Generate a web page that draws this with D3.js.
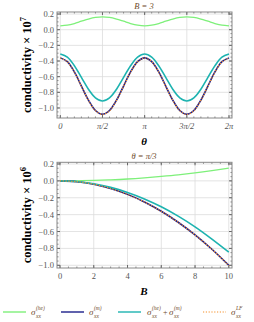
<!DOCTYPE html>
<html>
<head>
<meta charset="utf-8" />
<script src="https://d3js.org/d3.v7.min.js"></script>
<style>
  body { margin: 0; background: #fff; }
  text { font-family: "Liberation Serif", "DejaVu Serif", serif; }
</style>
</head>
<body>
<svg id="chart"></svg>
<script>
// theta samples (multiples of pi/12) and values (x 1e-7)
var thetaSteps = d3.range(0, 25);
var topHe  = [0.050,0.058,0.079,0.108,0.136,0.157,0.165,0.157,0.136,0.108,0.079,0.058,0.050,0.058,0.079,0.108,0.136,0.157,0.165,0.157,0.136,0.108,0.079,0.058,0.050];
var topM   = [-0.360,-0.408,-0.540,-0.720,-0.900,-1.032,-1.080,-1.032,-0.900,-0.720,-0.540,-0.408,-0.360,-0.408,-0.540,-0.720,-0.900,-1.032,-1.080,-1.032,-0.900,-0.720,-0.540,-0.408,-0.360];
var topSum = [-0.310,-0.350,-0.460,-0.610,-0.760,-0.870,-0.910,-0.870,-0.760,-0.610,-0.460,-0.350,-0.310,-0.350,-0.460,-0.610,-0.760,-0.870,-0.910,-0.870,-0.760,-0.610,-0.460,-0.350,-0.310];
var topLF  = [-0.362,-0.410,-0.543,-0.723,-0.903,-1.035,-1.083,-1.035,-0.903,-0.723,-0.543,-0.410,-0.362,-0.410,-0.543,-0.723,-0.903,-1.035,-1.083,-1.035,-0.903,-0.723,-0.543,-0.410,-0.362];
var thetaTicks = ["0", "\u03c0/2", "\u03c0", "3\u03c0/2", "2\u03c0"];

// B samples and values
var bVals   = [0,1,2,3,4,5,6,7,8,9,10];
var botHe   = [0.000,0.001,0.005,0.012,0.022,0.036,0.053,0.072,0.095,0.122,0.152];
var botM    = [0.000,-0.010,-0.040,-0.090,-0.160,-0.250,-0.360,-0.490,-0.640,-0.810,-1.000];
var botSum  = [0.000,-0.008,-0.035,-0.077,-0.137,-0.214,-0.307,-0.418,-0.545,-0.690,-0.845];
var botLF   = [0.000,-0.010,-0.040,-0.091,-0.161,-0.251,-0.361,-0.491,-0.641,-0.811,-1.002];

var yTicks = [0.2, 0.0, -0.2, -0.4, -0.6, -0.8, -1.0];
var bTicks = [0, 2, 4, 6, 8, 10];

var colors = { he: "#7ef07a", m: "#1c1f8a", sum: "#1db3b0", lf: "#f5902a" };
var brown = "#6e4a2a";

var W = 254, H = 322;
var svg = d3.select("#chart").attr("width", W).attr("height", H);

function panel(opt) {
  var g = svg.append("g");
  var x = opt.x, y = opt.y;
  var x0 = x.range()[0], x1 = x.range()[1], y0 = y.range()[1], y1 = y.range()[0];

  // grid
  opt.xMajor.forEach(function (v) {
    g.append("line").attr("x1", x(v)).attr("x2", x(v)).attr("y1", y0).attr("y2", y1)
      .attr("stroke", "#dcdcdc").attr("stroke-width", 0.8);
  });
  yTicks.forEach(function (v) {
    g.append("line").attr("x1", x0).attr("x2", x1).attr("y1", y(v)).attr("y2", y(v))
      .attr("stroke", "#dcdcdc").attr("stroke-width", 0.8);
  });

  // minor / major ticks on all sides
  opt.xMinor.forEach(function (v) {
    if (v < x.domain()[0] || v > x.domain()[1]) return;
    g.append("line").attr("x1", x(v)).attr("x2", x(v)).attr("y1", y1).attr("y2", y1 - 1.5).attr("stroke", "#888");
    g.append("line").attr("x1", x(v)).attr("x2", x(v)).attr("y1", y0).attr("y2", y0 + 1.5).attr("stroke", "#888");
  });
  opt.xMajor.forEach(function (v) {
    g.append("line").attr("x1", x(v)).attr("x2", x(v)).attr("y1", y1).attr("y2", y1 - 3).attr("stroke", "#666");
    g.append("line").attr("x1", x(v)).attr("x2", x(v)).attr("y1", y0).attr("y2", y0 + 3).attr("stroke", "#666");
  });
  d3.range(-1.1, 0.25, 0.05).forEach(function (v) {
    if (v < y.domain()[0] || v > y.domain()[1]) return;
    g.append("line").attr("x1", x0).attr("x2", x0 + 1.5).attr("y1", y(v)).attr("y2", y(v)).attr("stroke", "#888");
    g.append("line").attr("x1", x1).attr("x2", x1 - 1.5).attr("y1", y(v)).attr("y2", y(v)).attr("stroke", "#888");
  });
  yTicks.forEach(function (v) {
    g.append("line").attr("x1", x0).attr("x2", x0 + 3).attr("y1", y(v)).attr("y2", y(v)).attr("stroke", "#666");
    g.append("line").attr("x1", x1).attr("x2", x1 - 3).attr("y1", y(v)).attr("y2", y(v)).attr("stroke", "#666");
    g.append("text").attr("x", x0 - 3).attr("y", y(v) + 3).attr("text-anchor", "end")
      .attr("font-size", 8.5).attr("fill", "#555")
      .text((v < 0 ? "\u2212" : "") + Math.abs(v).toFixed(1));
  });

  // curves
  var line = d3.line().x(function (d) { return x(d[0]); }).y(function (d) { return y(d[1]); })
    .curve(d3.curveCatmullRom);
  function draw(vals, color, width, dash) {
    var pts = opt.xs.map(function (xv, i) { return [xv, vals[i]]; });
    g.append("path").datum(pts).attr("d", line).attr("fill", "none")
      .attr("stroke", color).attr("stroke-width", width)
      .attr("stroke-dasharray", dash || null);
  }
  draw(opt.he, colors.he, 1.3);
  draw(opt.m, colors.m, 1.6);
  draw(opt.sum, colors.sum, 1.6);
  draw(opt.lf, colors.lf, 1.3, "1.2,1.6");

  // frame
  g.append("rect").attr("x", x0).attr("y", y0).attr("width", x1 - x0).attr("height", y1 - y0)
    .attr("fill", "none").attr("stroke", "#888").attr("stroke-width", 1);

  // x tick labels
  opt.xMajor.forEach(function (v, i) {
    g.append("text").attr("x", x(v)).attr("y", y1 + 11).attr("text-anchor", "middle")
      .attr("font-size", 8.5).attr("fill", "#555")
      .attr("font-style", opt.xLabels ? "italic" : null)
      .text(opt.xLabels ? opt.xLabels[i] : v);
  });

  // title
  g.append("text").attr("x", 144).attr("y", y0 - 3).attr("text-anchor", "middle")
    .attr("font-size", 8.5).attr("font-style", "italic").attr("fill", brown).text(opt.title);

  // x label
  g.append("text").attr("x", 144).attr("y", opt.xLabelY).attr("text-anchor", "middle")
    .attr("font-size", 11).attr("font-style", "italic").attr("font-weight", "bold").text(opt.xName);

  // y label
  var cy = (y0 + y1) / 2;
  var yl = g.append("text").attr("transform", "translate(31," + cy + ") rotate(-90)")
    .attr("text-anchor", "middle").attr("font-size", 12.5).attr("font-weight", "bold");
  yl.append("tspan").text("conductivity \u00d7 10");
  yl.append("tspan").attr("dy", -5).attr("font-size", 8.5).text(opt.exp);
}

var pi = Math.PI;
panel({
  x: d3.scaleLinear().domain([-0.123, 6.395]).range([57, 232]),
  y: d3.scaleLinear().domain([-1.128, 0.226]).range([118, 12]),
  xs: thetaSteps.map(function (k) { return k * pi / 12; }),
  he: topHe, m: topM, sum: topSum, lf: topLF,
  xMajor: [0, pi / 2, pi, 3 * pi / 2, 2 * pi],
  xMinor: d3.range(0, 25).map(function (k) { return k * pi / 12; }),
  xLabels: thetaTicks,
  title: "B = 3", xName: "\u03b8", xLabelY: 145, exp: "7"
});

panel({
  x: d3.scaleLinear().domain([-0.178, 10.19]).range([57, 232]),
  y: d3.scaleLinear().domain([-1.032, 0.22]).range([268, 162.3]),
  xs: bVals,
  he: botHe, m: botM, sum: botSum, lf: botLF,
  xMajor: bTicks,
  xMinor: d3.range(0, 10.1, 0.5),
  xLabels: null,
  title: "\u03b8 = \u03c0/3", xName: "B", xLabelY: 295, exp: "6"
});

// legend
var legend = [
  { c: colors.he, x: 3, sup: "(he)", dash: null },
  { c: colors.m, x: 61, sup: "(m)", dash: null },
  { c: colors.sum, x: 118, sup: "(he)", sup2: "(m)", dash: null },
  { c: colors.lf, x: 203, sup: "LF", dash: "1.2,1.6" }
];
var ly = 312;
legend.forEach(function (d) {
  var lg = svg.append("g");
  lg.append("line").attr("x1", d.x).attr("x2", d.x + 23).attr("y1", ly).attr("y2", ly)
    .attr("stroke", d.c).attr("stroke-width", d.dash ? 1.2 : 1.4).attr("stroke-dasharray", d.dash);
  var tx = d.x + (d.sup2 ? 29 : 28);
  function sigma(sx, sup) {
    lg.append("text").attr("x", sx).attr("y", ly + 3).attr("font-size", 9).attr("font-style", "italic")
      .attr("fill", brown).text("\u03c3");
    lg.append("text").attr("x", sx + 5).attr("y", ly - 2).attr("font-size", 5.5).attr("font-style", "italic")
      .attr("fill", brown).text(sup);
    lg.append("text").attr("x", sx + 5).attr("y", ly + 6).attr("font-size", 5.5).attr("font-style", "italic")
      .attr("fill", brown).text("xx");
  }
  sigma(tx, d.sup);
  if (d.sup2) {
    lg.append("text").attr("x", tx + 16).attr("y", ly + 3).attr("font-size", 8).attr("fill", brown).text("+");
    sigma(tx + 22, d.sup2);
  }
});
</script>
</body>
</html>
